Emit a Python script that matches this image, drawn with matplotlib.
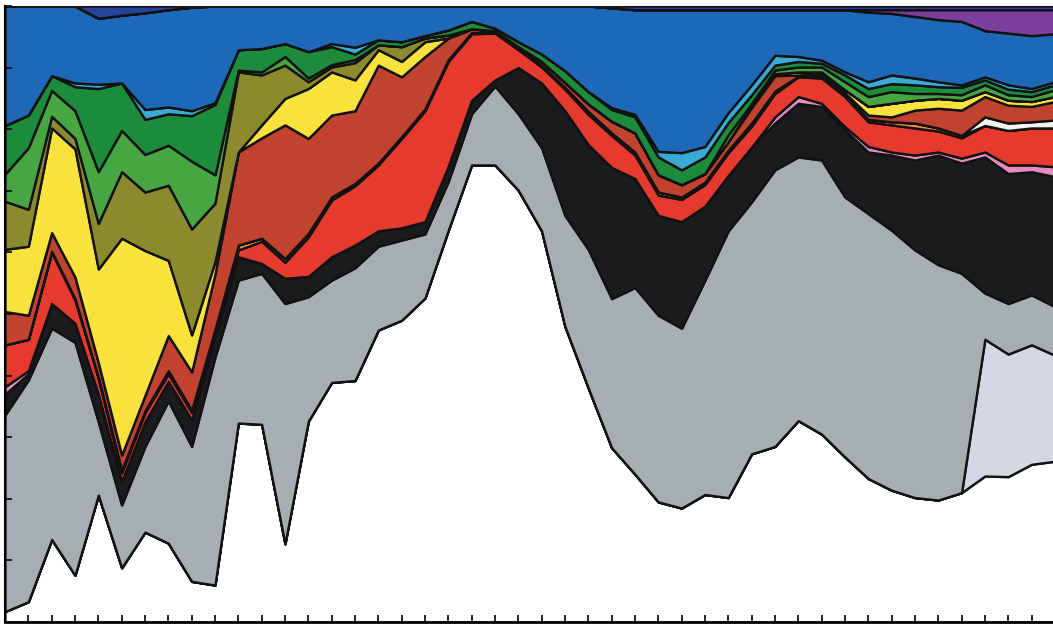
import numpy as np
import matplotlib.pyplot as plt

# Upper edge (cumulative %) of every band, index 0..45
x = np.arange(46)

WHITE = [1.7, 3.3, 13.4, 7.6, 20.6, 8.8, 14.6, 12.8, 6.6, 6.0,
         32.3, 32.1, 12.7, 32.6, 38.9, 39.2, 47.4, 49.0, 52.6, 63.6,
         74.2, 74.2, 70.1, 63.5, 48.0, 38.0, 28.3, 24.0, 19.5, 18.5,
         20.7, 20.2, 27.3, 28.5, 32.7, 30.5, 26.8, 23.3, 21.4, 20.2,
         19.8, 21.0, 23.7, 23.6, 25.6, 26.1]
LAVENDER = WHITE[:42] + [45.9, 43.5, 45.0, 43.3]
GRAY = [33.6, 39.3, 47.7, 45.4, 32.5, 19.0, 28.5, 35.9, 28.5, 43.0,
        55.5, 56.6, 51.7, 52.8, 55.5, 57.5, 61.0, 62.0, 63.0, 71.5,
        82.5, 87.0, 82.5, 77.0, 66.0, 60.5, 52.5, 54.3, 49.8, 47.7,
        55.5, 63.5, 68.2, 73.4, 75.5, 75.0, 69.0, 66.3, 63.6, 60.4,
        58.0, 56.6, 53.4, 51.7, 53.1, 51.2]
BLACK = [37.0, 40.3, 51.7, 48.5, 37.0, 22.8, 32.5, 39.1, 32.8, 46.5,
         59.3, 58.2, 55.8, 56.1, 59.3, 61.2, 63.5, 64.0, 65.0, 74.0,
         84.7, 88.0, 90.0, 87.5, 83.0, 77.5, 73.8, 72.0, 66.0, 65.0,
         67.5, 72.5, 77.1, 81.0, 84.2, 83.7, 79.9, 76.3, 75.8, 75.0,
         75.8, 74.5, 75.5, 72.8, 73.1, 72.3]
PINK = [38.2, 40.8] + BLACK[2:33] + [82.0, 85.3, 84.2, 80.4, 77.2, 76.3, 75.8,
                                     76.3, 75.3, 76.3, 74.2, 74.2, 73.9]
RED = [45.0, 45.9, 60.0, 52.3, 39.5, 24.2, 34.0, 40.3, 34.0, 47.2,
       60.4, 61.8, 58.4, 62.5, 68.5, 70.8, 74.2, 78.5, 83.0, 91.0,
       95.5, 95.6, 92.9, 90.1, 86.5, 82.4, 79.0, 75.8, 69.3, 68.6,
       71.0, 76.2, 80.5, 85.8, 88.5, 88.3, 85.3, 81.2, 80.7, 80.2,
       79.7, 78.6, 80.6, 79.8, 80.2, 80.2]
ORANGE = [45.0, 45.9, 60.2, 52.5, 39.8, 24.7, 34.3, 40.8, 34.4, 47.5,
          61.2, 62.3, 59.0, 63.1, 69.0, 71.2, 74.5, 78.8, 83.3, 91.3,
          95.7, 95.8, 93.1, 90.4, 86.8, 82.9, 79.4, 76.3, 69.8, 69.0,
          71.4, 76.6, 81.0, 86.2, 88.6, 88.6, 85.6, 81.6, 81.2, 81.0,
          80.2, 79.0, 80.6, 79.8, 80.2, 80.2]
IVORY = ORANGE[:42] + [82.0, 81.0, 81.2, 81.5]
BROWN = [50.4, 49.8, 63.2, 56.0, 42.1, 27.1, 36.8, 46.5, 40.6, 56.5,
         76.3, 78.6, 80.7, 78.5, 82.3, 83.0, 90.4, 88.5, 91.8, 94.8,
         96.3, 96.0, 93.4, 91.0, 87.6, 84.1, 81.3, 79.4, 72.6, 71.0,
         72.8, 78.0, 83.5, 88.7, 88.8, 89.0, 85.9, 82.3, 82.0, 83.1,
         83.4, 83.1, 85.3, 83.9, 83.7, 84.5]
YELLOW = [60.5, 61.0, 80.2, 76.8, 57.3, 62.3, 60.3, 58.7, 46.6, 58.5,
          76.3, 80.7, 85.0, 86.6, 89.3, 88.0, 92.9, 91.0, 94.2, 94.8,
          96.3, 96.0, 93.4, 91.0, 87.6, 84.1, 81.3, 79.4, 72.6, 71.0,
          72.8, 78.0, 83.8, 89.0, 89.3, 89.3, 86.4, 83.7, 84.2, 84.7,
          85.0, 84.7, 86.1, 84.7, 84.5, 85.3]
OLIVE = [68.3, 67.0, 82.1, 78.5, 64.7, 73.1, 69.8, 70.9, 63.8, 68.0,
         89.3, 88.8, 90.4, 87.7, 90.1, 90.8, 93.7, 93.4, 94.8, 95.3] + YELLOW[20:]
LTGREEN = [72.7, 77.0, 86.3, 83.0, 73.1, 79.8, 75.9, 77.4, 74.8, 72.6,
           89.6, 89.3, 91.8, 88.3, 90.5, 91.3, 93.7, 93.4, 94.8, 95.3,
           96.3, 96.0, 93.4, 91.0, 87.6, 84.1, 81.3, 79.4, 72.6, 71.0,
           72.8, 79.1, 84.2, 89.6, 90.1, 90.1, 87.7, 85.3, 86.1, 85.8,
           85.8, 85.6, 87.2, 85.6, 85.3, 86.4]
DKGREEN = [80.6, 82.3, 88.7, 86.9, 86.6, 87.5, 81.6, 82.5, 82.2, 84.0,
           92.9, 93.1, 93.9, 92.6, 93.4, 92.2, 94.5, 94.2, 95.2, 96.1,
           97.5, 96.4, 94.2, 92.2, 89.5, 86.1, 83.2, 82.0, 75.5, 73.4,
           75.5, 81.1, 85.6, 90.4, 91.0, 90.7, 88.8, 86.6, 87.4, 87.2,
           86.9, 86.8, 88.0, 86.5, 86.1, 87.2]
CYAN = [80.6, 82.3, 88.7, 87.5, 87.3, 87.5, 83.2, 83.6, 83.0, 84.3,
        92.9, 93.1, 93.9, 92.6, 93.9, 93.3, 94.5, 94.2, 95.2, 96.1,
        97.5, 96.4, 94.2, 92.2, 89.5, 86.1, 83.5, 82.4, 76.4, 76.2,
        77.2, 82.7, 87.2, 92.0, 91.8, 91.2, 89.3, 87.7, 88.8, 88.3,
        87.7, 87.2, 88.5, 87.2, 86.6, 87.7]
BLUE = [100, 100, 100, 100, 98.0, 98.5, 98.9, 99.4, 99.8, 100,
        100, 100, 100, 100, 100, 100, 100, 100, 100, 100,
        100, 100, 100, 100, 100, 100, 99.7, 99.4, 99.4, 99.4,
        99.4, 99.4, 99.4, 99.4, 99.4, 99.4, 99.4, 99.0, 98.8, 98.3,
        97.8, 97.5, 96.0, 95.6, 95.2, 95.5]
PURPLE = BLUE[:26] + [99.7] + [99.4] * 19
NAVY = [100] * 46

bands = [
    (WHITE, "#ffffff"), (LAVENDER, "#d3d8e3"), (GRAY, "#a7aeb2"),
    (BLACK, "#1b1b1d"), (PINK, "#e58bc0"), (RED, "#e73a2f"),
    (ORANGE, "#e98d45"), (IVORY, "#f4f3ec"), (BROWN, "#c1432f"),
    (YELLOW, "#f8e23b"), (OLIVE, "#8b8a2d"), (LTGREEN, "#47a641"),
    (DKGREEN, "#1c8b3c"), (CYAN, "#39aad6"), (BLUE, "#1e68b8"),
    (PURPLE, "#7a3f9c"), (NAVY, "#24449a"),
]
tops = np.array([b[0] for b in bands], dtype=float)
shares = np.diff(np.vstack([np.zeros(len(x)), tops]), axis=0)
colors = [b[1] for b in bands]

fig = plt.figure(figsize=(10.53, 6.26), dpi=100)
ax = fig.add_axes([5 / 1053, 4 / 626, 1048 / 1053, 616 / 626])
ax.stackplot(x, shares, colors=colors, edgecolor="#121212", linewidth=1.7)

ax.set_xlim(0, 1048 / 23.33)
ax.set_ylim(0, 100)
ax.set_xticks(range(0, 45))
ax.set_yticks(range(0, 101, 10))
ax.tick_params(direction="in", length=5, width=1.3, color="#151515",
               labelbottom=False, labelleft=False)
for side in ["top", "right"]:
    ax.spines[side].set_visible(False)
ax.spines["bottom"].set_linewidth(2)
ax.spines["left"].set_linewidth(1.5)

fig.savefig("out.png", dpi=100)
